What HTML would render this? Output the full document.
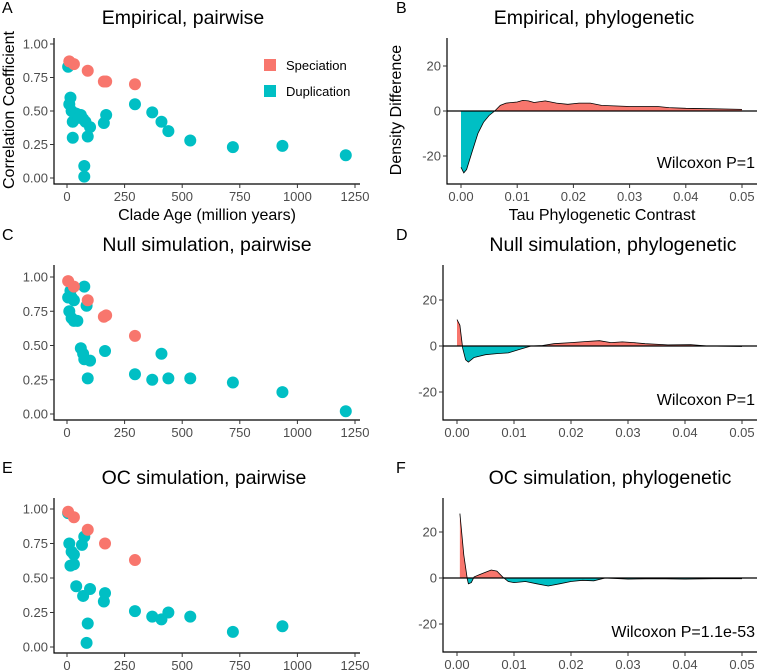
<!DOCTYPE html>
<html><head><meta charset="utf-8"><style>
body{margin:0;background:#fff;}
svg{display:block;font-family:"Liberation Sans",sans-serif;}
.tick{font-size:13px;fill:#4d4d4d;}
.ttl{font-size:19.5px;fill:#000;}
.atl{font-size:16px;fill:#000;}
.wil{font-size:16px;fill:#000;}
.lab{font-size:16px;fill:#000;}
</style></head><body>
<svg id="fig" width="757" height="672" viewBox="0 0 757 672"></svg>
<script>
// Panel A data
const aSpecX=[10,30,90,160,170,295];
const aSpecY=[0.87,0.85,0.80,0.72,0.72,0.70];
const aDupX=[5,10,15,20,25,25,40,50,60,70,80,90,100,75,75,160,170,295,370,410,440,535,720,935,1210];
const aDupY=[0.83,0.55,0.60,0.50,0.42,0.30,0.48,0.45,0.47,0.44,0.42,0.31,0.38,0.09,0.01,0.41,0.47,0.55,0.49,0.42,0.35,0.28,0.23,0.24,0.17];
// Panel C data
const cSpecX=[5,30,90,160,170,295];
const cSpecY=[0.97,0.93,0.83,0.71,0.72,0.57];
const cDupX=[5,15,20,30,10,20,30,45,75,85,60,70,75,100,90,165,295,370,410,440,535,720,935,1210];
const cDupY=[0.85,0.90,0.85,0.83,0.75,0.70,0.68,0.68,0.93,0.79,0.48,0.44,0.40,0.39,0.26,0.46,0.29,0.25,0.44,0.26,0.26,0.23,0.16,0.02];
// Panel E data
const eSpecX=[5,30,90,165,295];
const eSpecY=[0.98,0.94,0.85,0.75,0.63];
const eDupX=[5,10,20,30,15,30,40,65,75,70,100,90,85,165,160,295,370,410,440,535,720,935];
const eDupY=[0.97,0.75,0.69,0.67,0.59,0.60,0.44,0.74,0.80,0.37,0.42,0.17,0.03,0.39,0.33,0.26,0.22,0.20,0.25,0.22,0.11,0.15];
// Panel B density difference
const bX=[0,0.0005,0.001,0.002,0.003,0.004,0.005,0.006,0.007,0.008,0.01,0.011,0.012,0.013,0.015,0.017,0.019,0.021,0.023,0.025,0.03,0.035,0.037,0.04,0.045,0.05];
const bY=[-25,-27.5,-26,-18,-10,-5,-2,0,2.5,3.5,4,4.7,4.5,3.8,4.5,3.5,3,3.5,3.5,2.5,2,2,1.5,1.2,1,0.7];
// Panel D
const dX=[0,0.0005,0.001,0.0015,0.002,0.003,0.005,0.007,0.009,0.011,0.013,0.015,0.017,0.02,0.023,0.025,0.027,0.029,0.031,0.033,0.037,0.041,0.044,0.05];
const dY=[11.5,9,-1,-6,-7,-5,-3.8,-3.3,-3,-1.5,0,0.2,1,1.5,2,2.3,1.5,1.8,1.5,1,0.5,0.6,0,-0.2];
// Panel F
const fX=[0.0005,0.0012,0.0018,0.002,0.0025,0.003,0.004,0.005,0.006,0.007,0.008,0.009,0.01,0.012,0.014,0.016,0.018,0.02,0.022,0.024,0.026,0.03,0.035,0.04,0.045,0.05];
const fY=[28,10,-0.5,-2.5,-2,0.5,1.5,2.5,3.5,3,0.5,-1.5,-2,-1.5,-2.5,-3.5,-2.5,-1.5,-1,-1.2,0,-0.5,-0.3,-0.5,-0.3,-0.3];
const xTicksAge=[0,250,500,750,1000,1250];
const yTicksCor=[0,0.25,0.5,0.75,1];
const yTicksCorLab=["0.00","0.25","0.50","0.75","1.00"];
const xTicksTau=[0,0.01,0.02,0.03,0.04,0.05];
const xTicksTauLab=["0.00","0.01","0.02","0.03","0.04","0.05"];
const yTicksDen=[-20,0,20];

const RED="#F8766D", CYAN="#00BFC4";
const svg=document.getElementById('fig');
const NS="http://www.w3.org/2000/svg";
function mk(tag,attrs,parent,text){const e=document.createElementNS(NS,tag);for(const k in attrs)e.setAttribute(k,attrs[k]);if(text!==undefined)e.textContent=text;(parent||svg).appendChild(e);return e;}

function panelBase(g,letter,lx,ly,title,tx,ty){
  const l=mk('text',{x:lx,y:ly,class:'lab'},g,letter);
  
  
  const t=mk('text',{x:tx,y:ty,class:'ttl','text-anchor':'middle'},g,title);
  
  
}

function scatter(o){
  const g=mk('g',{});
  
  
  const sx=v=>o.x0+v*(o.x1-o.x0)/1250;
  const sy=v=>o.y0-v*(o.y0-o.y1);
  panelBase(g,o.letter,2,o.top+13,o.title,o.tx,o.top+24);
  const ax=mk('path',{d:`M${o.ax},${o.top+38} V${o.ab} H${o.ar}`,stroke:'#000','stroke-width':1.2,fill:'none'},g);
  
  
  yTicksCor.forEach((v,i)=>{
    mk('line',{x1:o.ax-4,x2:o.ax,y1:sy(v),y2:sy(v),stroke:'#333'},g);
    const t=mk('text',{x:o.ax-6,y:sy(v)+4.5,class:'tick','text-anchor':'end'},g,yTicksCorLab[i]);
    
    
  });
  xTicksAge.forEach(v=>{
    mk('line',{x1:sx(v),x2:sx(v),y1:o.ab,y2:o.ab+4,stroke:'#333'},g);
    const t=mk('text',{x:sx(v),y:o.ab+17,class:'tick','text-anchor':'middle'},g,String(v));
    
    
  });
  o.dx.forEach((v,i)=>{
    const c=mk('circle',{cx:sx(v),cy:sy(o.dy[i]),r:6,fill:CYAN},g);
    
    
  });
  o.spx.forEach((v,i)=>{
    const c=mk('circle',{cx:sx(v),cy:sy(o.spy[i]),r:6,fill:RED},g);
    
    
  });
  return g;
}

let clipId=0;
function density(o){
  const g=mk('g',{});
  
  
  const sx=v=>o.x0+v*(o.x1-o.x0)/0.05;
  const sy=v=>o.z-v*o.k;
  panelBase(g,o.letter,o.lx,o.top+13,o.title,o.tx,o.top+24);
  const pts=o.xs.map((v,i)=>[sx(v),sy(o.ys[i])]);
  const line='M'+pts.map(p=>p[0].toFixed(1)+','+p[1].toFixed(1)).join(' L');
  const area=line+` L${pts[pts.length-1][0]},${o.z} L${pts[0][0]},${o.z} Z`;
  const id1='c'+(clipId++),id2='c'+(clipId++);
  const defs=mk('defs',{},g);
  const c1=mk('clipPath',{id:id1},defs);mk('rect',{x:0,y:0,width:757,height:o.z},c1);
  const c2=mk('clipPath',{id:id2},defs);mk('rect',{x:0,y:o.z,width:757,height:300},c2);
  const pa=mk('path',{d:area,fill:RED,'clip-path':`url(#${id1})`},g);
  
  
  const na=mk('path',{d:area,fill:CYAN,'clip-path':`url(#${id2})`},g);
  
  
  const ln=mk('path',{d:line,fill:'none',stroke:'#000','stroke-width':0.8},g);
  
  
  const zl=mk('line',{x1:o.ax,x2:757,y1:o.z,y2:o.z,stroke:'#000','stroke-width':1.2},g);
  
  
  const ax=mk('path',{d:`M${o.ax},${o.top+38} V${o.ab} H757`,stroke:'#000','stroke-width':1.2,fill:'none'},g);
  
  
  yTicksDen.forEach(v=>{
    mk('line',{x1:o.ax-4,x2:o.ax,y1:sy(v),y2:sy(v),stroke:'#333'},g);
    const t=mk('text',{x:o.ax-6,y:sy(v)+4.5,class:'tick','text-anchor':'end'},g,String(v));
    
    
  });
  xTicksTau.forEach((v,i)=>{
    mk('line',{x1:sx(v),x2:sx(v),y1:o.ab,y2:o.ab+4,stroke:'#333'},g);
    const t=mk('text',{x:sx(v),y:o.ab+17,class:'tick','text-anchor':'middle'},g,xTicksTauLab[i]);
    
    
  });
  const w=mk('text',{x:755,y:o.wy,class:'wil','text-anchor':'end'},g,o.wtxt);
  
  
  return g;
}

scatter({name:'panel-a',letter:'A',title:'Empirical, pairwise',tx:183,top:0,x0:67,x1:355,y0:178,y1:44,ax:54,ab:184,ar:360,spx:aSpecX,spy:aSpecY,dx:aDupX,dy:aDupY});
scatter({name:'panel-c',letter:'C',title:'Null simulation, pairwise',tx:207,top:227,x0:67,x1:355,y0:414,y1:277,ax:54,ab:420,ar:360,spx:cSpecX,spy:cSpecY,dx:cDupX,dy:cDupY});
scatter({name:'panel-e',letter:'E',title:'OC simulation, pairwise',tx:204,top:460,x0:67,x1:355,y0:647,y1:509,ax:54,ab:653,ar:360,spx:eSpecX,spy:eSpecY,dx:eDupX,dy:eDupY});
density({name:'panel-b',letter:'B',lx:396,tx:594,title:'Empirical, phylogenetic',top:0,x0:461,x1:742,z:111,k:2.25,ax:447,ab:184,xs:bX,ys:bY,wy:168,wtxt:'Wilcoxon P=1'});
density({name:'panel-d',letter:'D',lx:396,tx:613,title:'Null simulation, phylogenetic',top:227,x0:457,x1:742,z:346,k:2.3,ax:443,ab:420,xs:dX,ys:dY,wy:405,wtxt:'Wilcoxon P=1'});
density({name:'panel-f',letter:'F',lx:396,tx:610,title:'OC simulation, phylogenetic',top:460,x0:457,x1:742,z:578,k:2.3,ax:443,ab:652,xs:fX,ys:fY,wy:637,wtxt:'Wilcoxon P=1.1e-53'});

function txt(a,s,name){const t=mk('text',a,svg,s);return t;}
txt({x:207,y:220,class:'atl','text-anchor':'middle'},'Clade Age (million years)','x-axis-title-a');
txt({x:0,y:0,class:'atl','text-anchor':'middle',transform:'translate(14,110) rotate(-90)'},'Correlation Coefficient','y-axis-title-a');
txt({x:602,y:220,class:'atl','text-anchor':'middle'},'Tau Phylogenetic Contrast','x-axis-title-b');
txt({x:0,y:0,class:'atl','text-anchor':'middle',transform:'translate(401,110) rotate(-90)'},'Density Difference','y-axis-title-b');
const lg=mk('g',{});


const r1=mk('rect',{x:264,y:59,width:12,height:12,fill:RED},lg);


const r2=mk('rect',{x:264,y:85,width:12,height:12,fill:CYAN},lg);


const l1=mk('text',{x:286,y:70,style:'font-size:13px'},lg,'Speciation');


const l2=mk('text',{x:286,y:96,style:'font-size:13px'},lg,'Duplication');


</script>
</body></html>
